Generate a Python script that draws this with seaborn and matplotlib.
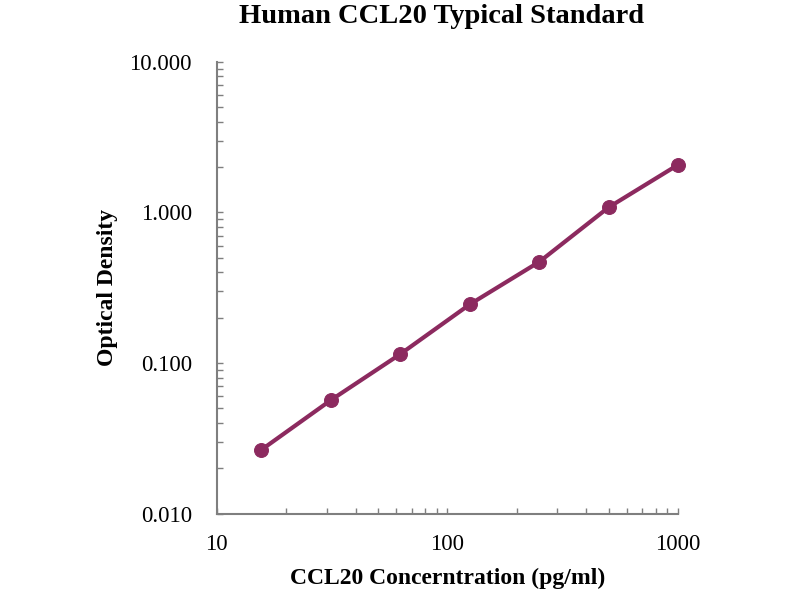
import numpy as np
import pandas as pd
import seaborn as sns
import matplotlib.pyplot as plt
from matplotlib.ticker import FixedLocator, FixedFormatter, LogLocator, NullFormatter

# standard curve readings
conc = [15.6, 31.25, 62.5, 125, 250, 500, 1000]
od = [0.0265, 0.0567, 0.1146, 0.245, 0.469, 1.08, 2.07]

x_ticks = [10, 100, 1000]
x_labels = ["10", "100", "1000"]
y_ticks = [0.01, 0.1, 1, 10]
y_labels = ["0.010", "0.100", "1.000", "10.000"]

df = pd.DataFrame({"conc": conc, "od": od})

sns.set_style("ticks")
plt.rcParams["font.family"] = ["Liberation Serif", "DejaVu Serif"]
plt.rcParams["text.color"] = "black"
plt.rcParams["axes.labelcolor"] = "black"
plt.rcParams["xtick.labelcolor"] = "black"
plt.rcParams["ytick.labelcolor"] = "black"

fig = plt.figure(figsize=(8, 6), dpi=100)
ax = fig.add_axes([0.271, 0.144, 0.5765, 0.753])

line_color = "#8c2a5f"
sns.lineplot(data=df, x="conc", y="od", ax=ax, color=line_color, linewidth=3,
             marker="o", markersize=10, markeredgecolor=line_color, clip_on=False)

ax.set_xscale("log")
ax.set_yscale("log")
ax.set_xlim(10, 1000)
ax.set_ylim(0.01, 10)

ax.xaxis.set_major_locator(FixedLocator(x_ticks))
ax.xaxis.set_major_formatter(FixedFormatter(x_labels))
ax.yaxis.set_major_locator(FixedLocator(y_ticks))
ax.yaxis.set_major_formatter(FixedFormatter(y_labels))
ax.xaxis.set_minor_locator(LogLocator(base=10, subs=np.arange(2, 10)))
ax.yaxis.set_minor_locator(LogLocator(base=10, subs=np.arange(2, 10)))
ax.xaxis.set_minor_formatter(NullFormatter())
ax.yaxis.set_minor_formatter(NullFormatter())

axis_grey = "#7f7f7f"
for side in ["top", "right"]:
    ax.spines[side].set_visible(False)
for side in ["left", "bottom"]:
    ax.spines[side].set_color(axis_grey)
    ax.spines[side].set_linewidth(1.5)

ax.tick_params(which="both", direction="in", color=axis_grey, width=1,
               bottom=True, left=True, top=False, right=False)
ax.tick_params(which="major", length=4)
ax.tick_params(which="minor", length=4)
ax.tick_params(axis="x", which="major", labelsize=16.5, pad=15)
ax.tick_params(axis="y", which="major", labelsize=16.5, pad=18)

ax.set_xlabel("CCL20 Concerntration (pg/ml)", fontsize=17, fontweight="bold", labelpad=9)
ax.set_ylabel("Optical Density", fontsize=17, fontweight="bold", labelpad=8)

fig.text(0.552, 0.972, "Human CCL20 Typical Standard", ha="center", va="center",
         fontsize=20.5, fontweight="bold")

fig.savefig("out.png", dpi=100, facecolor="white")
